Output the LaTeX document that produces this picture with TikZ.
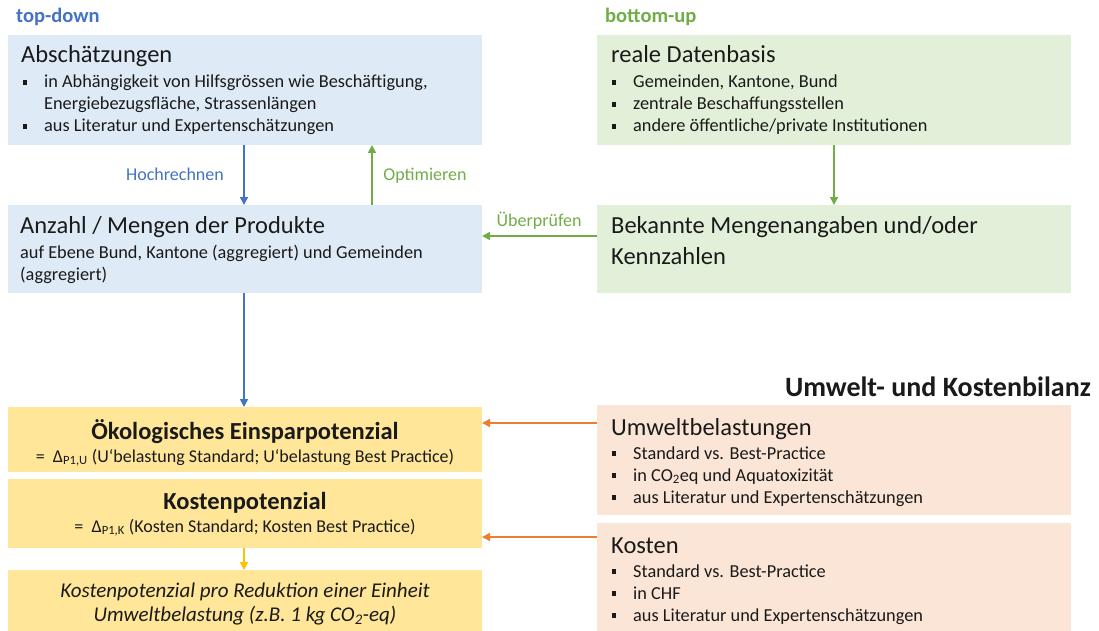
\documentclass[tikz,border=0pt]{standalone}
\usepackage{fontspec}
\setmainfont{Carlito}
\usetikzlibrary{arrows.meta}
\definecolor{tdblue}{HTML}{4472C4}
\definecolor{bugreen}{HTML}{70AD47}
\definecolor{orng}{HTML}{ED7D31}
\definecolor{gold}{HTML}{FFC000}
\definecolor{fblue}{HTML}{DEEBF7}
\definecolor{fgreen}{HTML}{E2F0D9}
\definecolor{fgold}{HTML}{FFE699}
\definecolor{forange}{HTML}{FBE5D6}
\definecolor{ink}{HTML}{1A1A1A}
\tikzset{
  box/.style={draw=none, minimum width=474pt, anchor=north west, inner sep=0pt, outer sep=0pt},
  ttl/.style={anchor=base west, inner sep=0pt, text=ink, font=\fontsize{24.5}{29}\selectfont},
  txt/.style={anchor=base west, inner sep=0pt, text=ink, font=\fontsize{18.3}{22}\selectfont},
  ctitle/.style={anchor=base, inner sep=0pt, text=ink, font=\fontsize{24.5}{29}\selectfont\bfseries},
  ctxt/.style={anchor=base, inner sep=0pt, text=ink, font=\fontsize{18}{22}\selectfont},
  itxt/.style={anchor=base, inner sep=0pt, text=ink, font=\fontsize{21}{25}\selectfont\itshape},
  bsq/.style={fill=ink, draw=none, minimum size=4.2pt, inner sep=0pt},
  arr/.style={line width=1.6pt, -{Triangle[length=8pt,width=8pt]}},
  lbl/.style={inner sep=0pt, font=\fontsize{18}{21}\selectfont},
  hdr/.style={anchor=base west, inner sep=0pt, font=\fontsize{20.5}{24}\selectfont\bfseries}
}
\newcommand\bline[4]{%
  \node[bsq] (#1b) at (#2-19,#3-5.5) {};
  \node[txt] (#1) at (#2,#3) {#4};}
\begin{document}
\begin{tikzpicture}[x=1pt,y=-1pt]
\useasboundingbox (0,0) rectangle (1099,631);

% headers
\node[hdr, text=tdblue] (hTD) at (16,23) {top-down};
\node[hdr, text=bugreen] (hBU) at (605,23) {bottom-up};

% boxes
\node[box, fill=fblue, minimum height=110pt] (A) at (8,35) {};
\node[box, fill=fgreen, minimum height=110pt] (B) at (597,35) {};
\node[box, fill=fblue, minimum height=88pt] (C) at (8,205) {};
\node[box, fill=fgreen, minimum height=88pt] (D) at (597,205) {};
\node[box, fill=fgold, minimum height=65pt] (E) at (8,407) {};
\node[box, fill=fgold, minimum height=69pt] (F) at (8,479) {};
\node[box, fill=fgold, minimum height=61pt] (G) at (8,570) {};
\node[box, fill=forange, minimum height=110pt] (H) at (597,405) {};
\node[box, fill=forange, minimum height=108pt] (I) at (597,523) {};

% Box A
\node[ttl] (At) at (21,63) {Abschätzungen};
\bline{Al1}{44}{88}{in Abhängigkeit von Hilfsgrössen wie Beschäftigung,}
\node[txt] (Al2) at (44,110) {Energiebezugsfläche, Strassenlängen};
\bline{Al3}{44}{132}{aus Literatur und Expertenschätzungen}

% Box B
\node[ttl] (Bt) at (611,63) {reale Datenbasis};
\bline{Bl1}{633}{88}{Gemeinden, Kantone, Bund}
\bline{Bl2}{633}{110}{zentrale Beschaffungsstellen}
\bline{Bl3}{633}{132}{andere öffentliche/private Institutionen}

% Box C
\node[ttl] (Ct) at (20,233) {Anzahl / Mengen der Produkte};
\node[txt] (Cl1) at (20,258) {auf Ebene Bund, Kantone (aggregiert) und Gemeinden};
\node[txt] (Cl2) at (20,280) {(aggregiert)};

% Box D
\node[ttl] (Dt1) at (611,233) {Bekannte Mengenangaben und/oder};
\node[ttl] (Dt2) at (611,264) {Kennzahlen};

% Box E
\node[ctitle] (Et) at (245,439) {Ökologisches Einsparpotenzial};
\node[ctxt] (El) at (245,462) {=\ \ Δ\textsubscript{P1,U} (U‘belastung Standard; U‘belastung Best Practice)};

% Box F
\node[ctitle] (Ft) at (245,509) {Kostenpotenzial};
\node[ctxt] (Fl) at (245,532) {=\ \ Δ\textsubscript{P1,K} (Kosten Standard; Kosten Best Practice)};

% Box G
\node[itxt] (Gl1) at (245,597) {Kostenpotenzial pro Reduktion einer Einheit};
\node[itxt] (Gl2) at (245,621) {Umweltbelastung (z.B. 1 kg CO\textsubscript{2}-eq)};

% Box H
\node[ttl] (Ht) at (611,435) {Umweltbelastungen};
\bline{Hl1}{633}{459}{Standard vs. Best-Practice}
\bline{Hl2}{633}{481}{in CO\textsubscript{2}eq und Aquatoxizität}
\bline{Hl3}{633}{503}{aus Literatur und Expertenschätzungen}

% Box I
\node[ttl] (It) at (611,553) {Kosten};
\bline{Il1}{633}{577}{Standard vs. Best-Practice}
\bline{Il2}{633}{599}{in CHF}
\bline{Il3}{633}{621}{aus Literatur und Expertenschätzungen}

% section title
\node[anchor=base east, inner sep=0pt, text=ink, font=\fontsize{28}{33}\selectfont\bfseries] (UK) at (1091,396) {Umwelt- und Kostenbilanz};

% connectors
\coordinate (x1) at (244,0);
\coordinate (x2) at (372,0);
\coordinate (x3) at (834,0);
\coordinate (y1) at (0,236);
\coordinate (y2) at (0,423);
\coordinate (y3) at (0,537);

\draw[arr, tdblue] (A.south -| x1) -- (C.north -| x1);
\node[lbl, text=tdblue] (Lh) at (175,174) {Hochrechnen};
\draw[arr, bugreen] (C.north -| x2) -- (A.south -| x2);
\node[lbl, text=bugreen] (Lo) at (425,176) {Optimieren};
\draw[arr, bugreen] (B.south -| x3) -- (D.north -| x3);
\draw[arr, bugreen] (D.west |- y1) -- (C.east |- y1);
\node[lbl, text=bugreen] (Lu) at (539,221) {Überprüfen};
\draw[arr, tdblue] (C.south -| x1) -- (E.north -| x1);
\draw[arr, orng] (H.west |- y2) -- (E.east |- y2);
\draw[arr, orng] (I.west |- y3) -- (F.east |- y3);
\draw[arr, gold] (F.south -| x1) -- (G.north -| x1);
\end{tikzpicture}
\end{document}
